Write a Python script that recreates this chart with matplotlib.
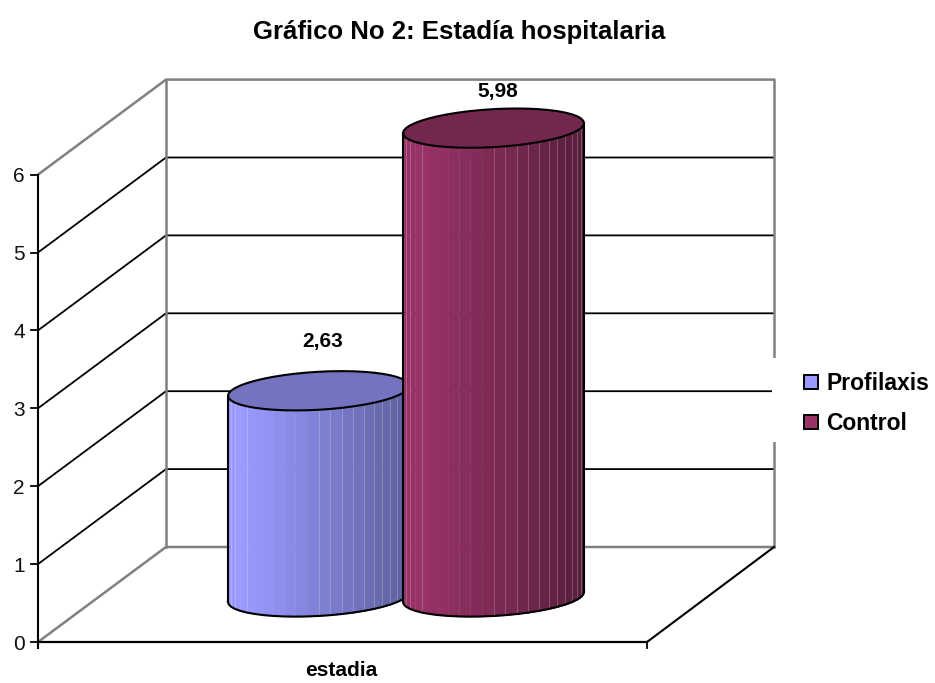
import numpy as np
import matplotlib
matplotlib.use("Agg")
import matplotlib.pyplot as plt
from matplotlib.colors import to_rgb

plt.rcParams["font.family"] = ["Liberation Sans", "DejaVu Sans"]

TITLE = "Gráfico No 2: Estadía hospitalaria"
CATEGORY = "estadia"
SERIES = ["Profilaxis", "Control"]
VALUES = [2.63, 5.98]
VALUE_LABELS = ["2,63", "5,98"]
Y_TICKS = [0, 1, 2, 3, 4, 5, 6]

# look of the fake 3d box, in pixels
FRONT_X, FRONT_RIGHT, FRONT_Y = 38, 647, 642
DEPTH_X, DEPTH_Y = 128, 95
UNIT = 77.9
BAR_UNIT = 78.4
BAR_DEPTH = 0.474
BAR_SHIFT = 63.5
BAR_STEP = 175
BAR_A = 90.5
BAR_B = 19
BAR_TILT = 5

LIGHT = ["#9999FF", "#993366"]
DARK = ["#5C5F9A", "#561E3C"]
TOPS = ["#7373BF", "#73274F"]
WALL = "#808080"


def val_y(v, depth=0.0):
    return FRONT_Y - v * UNIT - depth * DEPTH_Y


def draw_cylinder(ax, cx, value, light, dark, top, z):
    base_y = val_y(0, BAR_DEPTH)
    top_y = base_y - value * BAR_UNIT
    light = np.array(to_rgb(light))
    dark = np.array(to_rgb(dark))

    # side made of facets, same angle each so they bunch up at the edges
    angles = np.linspace(np.pi, 0, 25)
    xs = cx + BAR_A * np.cos(angles)
    front = BAR_B * np.sin(angles) - BAR_TILT * np.cos(angles)
    for i in range(len(xs) - 1):
        t = (xs[i] - xs[0]) / (xs[-1] - xs[0])
        col = light + (dark - light) * max(0, t - 0.08) / 0.92
        ax.fill_between(xs[i:i + 2], top_y + front[i:i + 2], base_y + front[i:i + 2],
                        color=col, linewidth=0.3, zorder=z)
        # the pale seams
        if i in (2, 3, 5) or t > 0.45:
            seam = col + (1 - col) * 0.22
            ax.plot([xs[i], xs[i]], [top_y + front[i], base_y + front[i]],
                    color=seam, linewidth=0.7, zorder=z + 0.1)

    ax.plot(xs, base_y + front, color="black", linewidth=1.5, zorder=z + 0.2)
    ax.plot([xs[0], xs[0]], [top_y + front[0], base_y + front[0]], color="black", linewidth=1.5, zorder=z + 0.2)
    ax.plot([xs[-1], xs[-1]], [top_y + front[-1], base_y + front[-1]], color="black", linewidth=1.5, zorder=z + 0.2)

    t = np.linspace(0, 2 * np.pi, 49)
    ax.fill(cx + BAR_A * np.cos(t), top_y + BAR_B * np.sin(t) - BAR_TILT * np.cos(t),
            facecolor=top, edgecolor="black", linewidth=1.5, zorder=z + 0.3)
    return top_y


fig = plt.figure(figsize=(9.35, 6.83), dpi=100)
ax = fig.add_axes([0, 0, 1, 1])
ax.set_xlim(0, 935)
ax.set_ylim(683, 0)
ax.axis("off")

back_l = FRONT_X + DEPTH_X
back_r = FRONT_RIGHT + DEPTH_X - 1
top_val = Y_TICKS[-1]

# gridlines on the walls
for v in Y_TICKS[1:-1]:
    ax.plot([FRONT_X, back_l, back_r], [val_y(v), val_y(v, 1), val_y(v, 1)], color="black", linewidth=1.3, zorder=1)

# box outline
ax.plot([FRONT_X, back_l, back_r], [val_y(top_val), val_y(top_val, 1), val_y(top_val, 1)],
        color=WALL, linewidth=1.8, zorder=1.5)
ax.plot([FRONT_X, back_l, back_r], [val_y(0), val_y(0, 1), val_y(0, 1)], color=WALL, linewidth=1.8, zorder=1.5)
ax.plot([back_l, back_l], [val_y(0, 1), val_y(top_val, 1)], color=WALL, linewidth=1.8, zorder=1.5)
ax.plot([back_r, back_r], [val_y(0, 1), val_y(top_val, 1)], color=WALL, linewidth=1.8, zorder=1.5)
ax.plot([FRONT_RIGHT, back_r], [val_y(0), val_y(0, 1)], color="black", linewidth=1.5, zorder=1.6)

# front axes and ticks
ax.plot([FRONT_X, FRONT_X], [val_y(0) + 6, val_y(top_val)], color="black", linewidth=1.5, zorder=2)
ax.plot([FRONT_X, FRONT_RIGHT], [val_y(0), val_y(0)], color="black", linewidth=1.6, zorder=2)
ax.plot([FRONT_RIGHT, FRONT_RIGHT], [val_y(0), val_y(0) + 6], color="black", linewidth=1.3, zorder=2)
for v in Y_TICKS:
    ax.plot([FRONT_X - 7, FRONT_X], [val_y(v), val_y(v)], color="black", linewidth=1.3, zorder=2)
    ax.text(25, val_y(v), str(v), ha="right", va="center_baseline", fontsize=15, color="#111111")

# the cylinders, one either side of the category middle
mid = (FRONT_X + FRONT_RIGHT) / 2 + BAR_SHIFT
for i, val in enumerate(VALUES):
    cx = mid + (i - 0.5) * BAR_STEP
    top_y = draw_cylinder(ax, cx, val, LIGHT[i], DARK[i], TOPS[i], 3 + i)
    ax.text(cx + 4, top_y - 51 + 12 * i, VALUE_LABELS[i],
            ha="center", va="center_baseline", fontsize=15, fontweight="bold", zorder=8)

ax.text((FRONT_X + FRONT_RIGHT) / 2 - 1, 671, CATEGORY, ha="center", va="center", fontsize=15,
        fontweight="bold")
ax.text(459.5, 29, TITLE, ha="center", va="center_baseline", fontsize=18.5, fontweight="bold")

# legend, white box cuts into the right wall
ax.fill_between([772, 935], 358, 442, color="white", linewidth=0, zorder=6)
for i, name in enumerate(SERIES):
    y = 381.5 + i * 40
    ax.fill([804, 818, 818, 804], [y - 7, y - 7, y + 7, y + 7], facecolor=LIGHT[i], edgecolor="black",
            linewidth=1.4, zorder=7)
    ax.text(826, y - 1, name, ha="left", va="center_baseline", fontsize=16.5, fontweight="bold", zorder=7)

fig.savefig("out.png", dpi=100)
